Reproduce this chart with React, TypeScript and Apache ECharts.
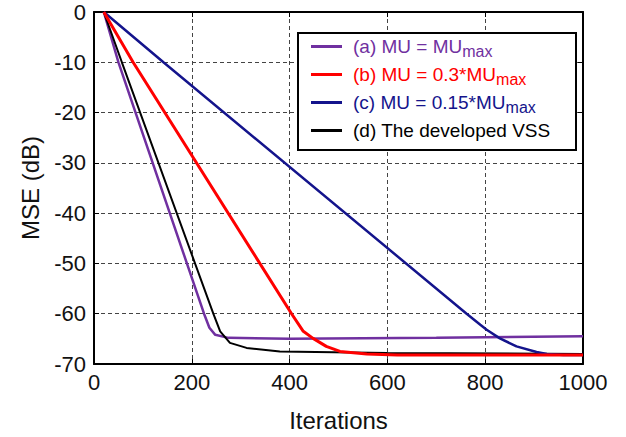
import React, { useEffect, useRef } from "react";
import * as echarts from "echarts";

const FONT = "'Liberation Sans', Arial, Helvetica, sans-serif";

const seriesNames = [
  "(a) MU = MUmax",
  "(b) MU = 0.3*MUmax",
  "(c) MU = 0.15*MUmax",
  "(d) The developed VSS",
];
const seriesColors = ["#7030A0", "#FF0000", "#14148C", "#000000"];
const seriesWidths = [2.5, 3, 2.5, 2];

const curveA: [number, number][] = [
  [20, 0], [50, -10], [225, -60], [236, -62.8], [248, -64.2], [275, -64.8], [400, -65], [700, -64.8], [1000, -64.5],
];
const curveB: [number, number][] = [
  [20, 0], [80, -10], [404, -60], [428, -63.5], [448, -64.9], [475, -66.5], [503, -67.5], [558, -68.0], [620, -68.2], [1000, -68.2],
];
const curveC: [number, number][] = [
  [20, 0], [142, -10], [762, -60], [790, -62.2], [803, -63.2], [830, -64.9], [864, -66.5], [905, -67.6], [926, -68.0], [960, -68.2], [1000, -68.2],
];
const curveD: [number, number][] = [
  [20, 0], [57, -10], [244, -60], [258, -63.5], [278, -65.8], [312, -66.8], [380, -67.5], [600, -67.8], [1000, -68.0],
];
const curves = [curveA, curveB, curveC, curveD];
const drawOrder = [0, 3, 2, 1];

const xMin = 0, xMax = 1000, xStep = 200;
const yMin = -70, yMax = 0, yStep = 10;

export default function App() {
  const ref = useRef<HTMLDivElement>(null);
  useEffect(() => {
    const chart = echarts.init(ref.current!, null, { renderer: "svg" });
    const keys = ["a", "b", "c", "d"];
    const rich: Record<string, any> = {};
    keys.forEach((k, i) => {
      rich[k + "n"] = { color: seriesColors[i], fontSize: 19, lineHeight: 26, fontFamily: FONT, padding: [0, 0, 0, 6] };
      rich[k + "s"] = { color: seriesColors[i], fontSize: 16, fontFamily: FONT, padding: [9, 0, 0, 0] };
    });
    const formatter = (name: string) => {
      const i = seriesNames.indexOf(name);
      const k = keys[i];
      if (name.endsWith("max")) {
        return `{${k}n|${name.slice(0, -3)}}{${k}s|max}`;
      }
      return `{${k}n|${name}}`;
    };
    const axisLine = { show: true, onZero: false, lineStyle: { color: "#000", width: 2 } };
    const axisTick = { show: true, inside: true, length: 5, lineStyle: { color: "#000", width: 1 } };
    const splitLine = { show: true, lineStyle: { type: [4, 3], color: "#444", width: 1 } };
    chart.setOption({
      animation: false,
      backgroundColor: "#fff",
      grid: { left: 94, top: 12, right: 43, bottom: 71 },
      xAxis: [
        {
          type: "value", min: xMin, max: xMax, interval: xStep, position: "bottom",
          axisLine, axisTick, splitLine,
          axisLabel: { fontSize: 22, color: "#111", margin: 7, fontFamily: FONT, formatter: (v: number) => String(v) },
          name: "Iterations", nameLocation: "middle", nameGap: 44,
          nameTextStyle: { fontSize: 24, color: "#111", fontFamily: FONT },
        },
        {
          type: "value", min: xMin, max: xMax, interval: xStep, position: "top",
          axisLine, axisTick, splitLine: { show: false }, axisLabel: { show: false },
        },
      ],
      yAxis: [
        {
          type: "value", min: yMin, max: yMax, interval: yStep, position: "left",
          axisLine, axisTick, splitLine,
          axisLabel: { fontSize: 22, color: "#111", margin: 8, fontFamily: FONT, formatter: (v: number) => String(v) },
          name: "MSE (dB)", nameLocation: "middle", nameGap: 52,
          nameTextStyle: { fontSize: 24, color: "#111", fontFamily: FONT },
        },
        {
          type: "value", min: yMin, max: yMax, interval: yStep, position: "right",
          axisLine, axisTick, splitLine: { show: false }, axisLabel: { show: false },
        },
      ],
      graphic: [
        {
          type: "rect", z: 4,
          shape: { x: 298, y: 33, width: 278, height: 117 },
          style: { fill: "#fff", stroke: "#000", lineWidth: 2 },
        },
      ],
      legend: {
        z: 5, orient: "vertical", left: 300, top: 37,
        padding: [0, 10, 3, 11], itemGap: 6, itemWidth: 31, itemHeight: 3, icon: "rect",
        data: seriesNames, formatter,
        textStyle: { fontSize: 19, fontFamily: FONT, rich },
      },
      series: drawOrder.map((i) => ({
        type: "line", name: seriesNames[i], data: curves[i],
        xAxisIndex: 0, yAxisIndex: 0,
        showSymbol: false, symbol: "none",
        color: seriesColors[i],
        lineStyle: { color: seriesColors[i], width: seriesWidths[i] },
      })),
    });
    return () => chart.dispose();
  }, []);
  return <div ref={ref} style={{ position: "fixed", left: 0, top: 0, width: 626, height: 437 }} />;
}
